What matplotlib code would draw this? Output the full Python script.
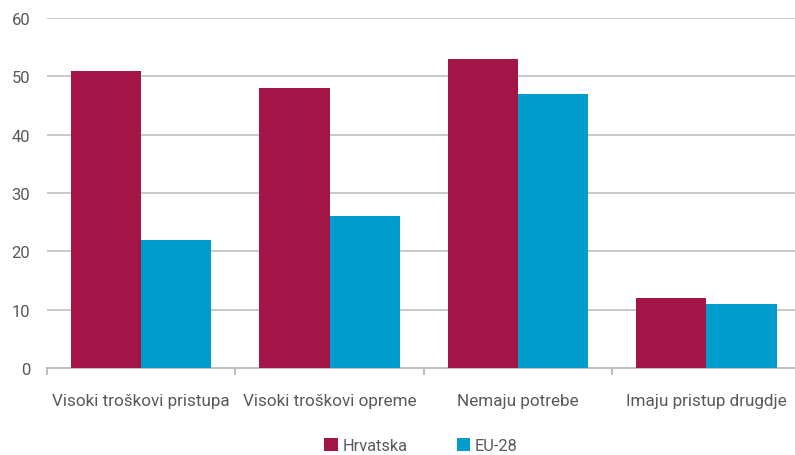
import matplotlib.pyplot as plt
import numpy as np

categories = ['Visoki troškovi pristupa', 'Visoki troškovi opreme', 'Nemaju potrebe', 'Imaju pristup drugdje']
hrvatska = [51, 48, 53, 12]
eu28 = [22, 26, 47, 11]
series_names = ['Hrvatska', 'EU-28']
yticks = [0, 10, 20, 30, 40, 50, 60]

plt.rcParams['font.family'] = ['Roboto', 'DejaVu Sans']
txt = '#595959'

fig = plt.figure(figsize=(7.95, 4.56), dpi=100)
ax = fig.add_axes([0.059, 0.191, 0.941, 0.767])

x = np.arange(len(categories))
w = 0.373
ax.bar(x - w/2, hrvatska, w, color='#A31547', label=series_names[0], zorder=3)
ax.bar(x + w/2, eu28, w, color='#009CCB', label=series_names[1], zorder=3)

ax.set_xlim(-0.5, 3.47)
ax.set_ylim(0, 60)
ax.set_yticks(yticks)
ax.yaxis.grid(True, color='#BFBFBF', linewidth=1.2, zorder=0)
ax.set_axisbelow(True)
for s in ['left', 'right', 'top']:
    ax.spines[s].set_visible(False)
ax.spines['bottom'].set_color('#BFBFBF')
ax.spines['bottom'].set_linewidth(1.5)

ax.set_xticks(x)
ax.set_xticklabels(categories)
ax.set_xticks(np.arange(-0.5, 3.5, 1), minor=True)
ax.tick_params(axis='x', which='major', length=0, pad=18, labelsize=12.3, labelcolor=txt)
ax.tick_params(axis='x', which='minor', length=5, width=1.5, color='#BFBFBF')
ax.tick_params(axis='y', length=0, pad=12, labelsize=12, labelcolor=txt)

leg = ax.legend(loc='lower center', bbox_to_anchor=(0.5, -0.272), ncol=2, frameon=False,
                fontsize=11.8, handlelength=0.8, handleheight=0.8, handletextpad=0.3,
                columnspacing=3.0, borderpad=0.1)
for t in leg.get_texts():
    t.set_color(txt)

fig.savefig('out.png', dpi=100)
